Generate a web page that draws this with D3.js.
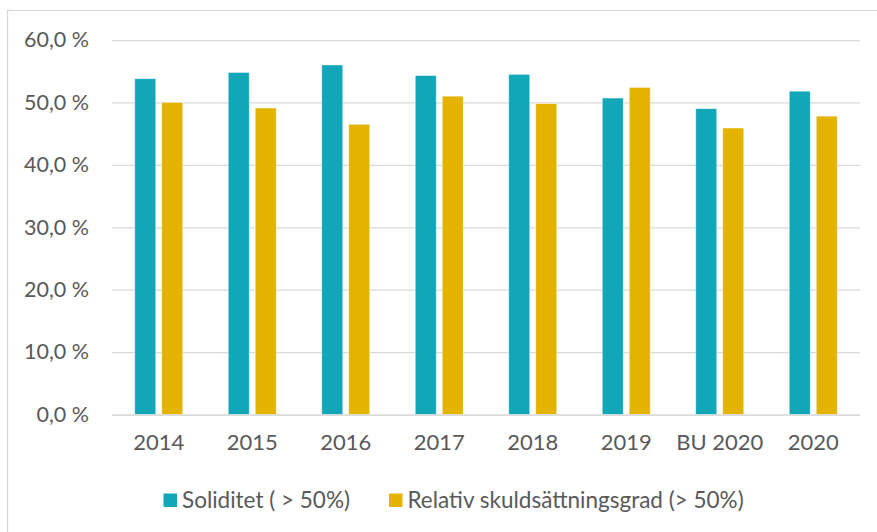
<!DOCTYPE html>
<html>
<head>
<meta charset="utf-8">
<script src="https://cdn.jsdelivr.net/npm/d3@7"></script>
<style>
  body { margin: 0; background: #fff; }
  svg { display: block; font-family: Lato, "Open Sans", sans-serif; }
</style>
</head>
<body>
<svg id="chart" width="877" height="532"></svg>
<script>
var categories = ["2014", "2015", "2016", "2017", "2018", "2019", "BU 2020", "2020"];
var seriesNames = ["Soliditet ( > 50%)", "Relativ skuldsättningsgrad (> 50%)"];
var soliditet = [53.8, 54.8, 56.0, 54.3, 54.5, 50.7, 49.0, 51.8];
var skuldsattning = [50.0, 49.1, 46.5, 51.0, 49.8, 52.4, 45.9, 47.8];
var yTicks = [0, 10, 20, 30, 40, 50, 60];
var colors = ["#11a7b8", "#e3b300"];

var svg = d3.select("#chart");
var margin = {top: 40, right: 17, bottom: 117.5, left: 112},
    width = 877 - margin.left - margin.right,
    height = 532 - margin.top - margin.bottom;

// chart frame
svg.append("rect")
    .attr("x", 7.5).attr("y", 10.5)
    .attr("width", 900).attr("height", 560)
    .attr("fill", "none")
    .attr("stroke", "#d9d9d9")
    .attr("stroke-width", 1.25);

var g = svg.append("g")
    .attr("transform", "translate(" + margin.left + "," + margin.top + ")");

var x = d3.scaleBand().domain(categories).range([0, width]);
var x1 = d3.scaleBand().domain(seriesNames)
    .range([(x.bandwidth() - 48) / 2, (x.bandwidth() + 48) / 2])
    .paddingInner(6 / 27);
var y = d3.scaleLinear().domain([0, 60]).range([height, 0]);

var fmt = function (d) { return d3.format(".1f")(d).replace(".", ",") + " %"; };

// gridlines + y labels
var yAxis = d3.axisLeft(y).tickValues(yTicks).tickSize(-width).tickFormat(fmt).tickPadding(23);
var ya = g.append("g").call(yAxis);
ya.select(".domain").remove();
ya.selectAll(".tick line").attr("stroke", "#d9d9d9").attr("stroke-width", 1.25);
ya.selectAll(".tick text")
    .attr("fill", "#595959")
    .attr("font-size", "21.5px")
    .attr("font-family", "Lato, sans-serif");

// bars
var rows = categories.map(function (c, i) {
    return {cat: c, vals: [soliditet[i], skuldsattning[i]]};
});
var groups = g.selectAll(".grp")
    .data(rows)
    .enter().append("g")
    .attr("class", "grp")
    .attr("transform", function (d) { return "translate(" + x(d.cat) + ",0)"; });

groups.selectAll("rect")
    .data(function (d) { return d.vals.map(function (v, j) { return {s: seriesNames[j], v: v, j: j}; }); })
    .enter().append("rect")
    .attr("x", function (d) { return x1(d.s); })
    .attr("width", x1.bandwidth())
    .attr("y", function (d) { return y(d.v); })
    .attr("height", function (d) { return y(0) - y(d.v); })
    .attr("fill", function (d) { return colors[d.j]; })
    .attr("stroke", "rgba(255,255,255,0.55)")
    .attr("stroke-width", 0.8);

// x axis labels
var xAxis = d3.axisBottom(x).tickSize(0).tickPadding(20);
var xa = g.append("g").attr("transform", "translate(0," + height + ")").call(xAxis);
xa.select(".domain").attr("stroke", "#d9d9d9").attr("stroke-width", 1.25);
xa.selectAll(".tick text")
    .attr("fill", "#595959")
    .attr("font-size", "22px")
    .attr("font-family", "Lato, sans-serif");

// legend
var legendX = [163.5, 389];
var legend = svg.append("g");
seriesNames.forEach(function (name, j) {
    legend.append("rect")
        .attr("x", legendX[j]).attr("y", 493.5)
        .attr("width", 13.5).attr("height", 13.5)
        .attr("fill", colors[j]);
    legend.append("text")
        .attr("x", legendX[j] + 18.5)
        .attr("y", 507.5)
        .attr("fill", "#595959")
        .attr("font-size", "22.5px")
        .text(name);
});
</script>
</body>
</html>
